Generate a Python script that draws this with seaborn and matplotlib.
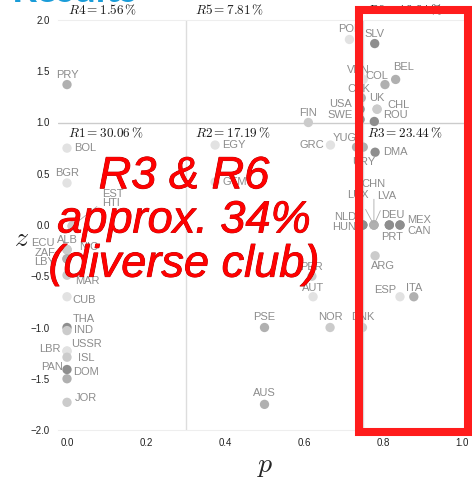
import matplotlib
matplotlib.use("Agg")
import matplotlib.pyplot as plt
import matplotlib.patheffects as pe
from matplotlib.patches import Rectangle
import seaborn as sns
import pandas as pd

# country codes, participation coefficient p, within-module degree z, grey shade level
names = ["PRY", "BOL", "BGR", "POL", "SLV", "VEN", "COL", "BEL", "CSK", "UK",
         "CHL", "ROU", "USA", "SWE", "FIN", "YUG", "URY", "GRC", "DMA", "CHN",
         "LUX", "LVA", "NLD", "HUN", "DEU", "PRT", "MEX", "CAN", "ARG", "ESP",
         "ITA", "PER", "AUT", "PSE", "NOR", "DNK", "AUS", "EGY", "GTM", "THA",
         "IND", "LBR", "USSR", "ISL", "PAN", "DOM", "JOR", "CUB", "EST", "HTI",
         "ALB", "NIC", "ECU", "ZAF", "LBY", "MAR"]
p = [0.0, 0.0, 0.0, 0.715, 0.779, 0.75, 0.805, 0.832, 0.745, 0.785,
     0.785, 0.778, 0.742, 0.742, 0.611, 0.733, 0.75, 0.667, 0.78, 0.777,
     0.777, 0.777, 0.749, 0.749, 0.816, 0.816, 0.843, 0.843, 0.78, 0.843,
     0.878, 0.62, 0.623, 0.5, 0.666, 0.748, 0.5, 0.375, 0.375, 0.0,
     0.0, 0.0, 0.0, 0.0, 0.0, 0.0, 0.0, 0.0, 0.013, 0.013,
     0.0, 0.0, 0.0, 0.0, 0.0, 0.0]
z = [1.37, 0.75, 0.41, 1.81, 1.77, 1.42, 1.37, 1.42, 1.24, 1.13,
     1.13, 1.01, 1.13, 1.03, 1.0, 0.76, 0.76, 0.78, 0.71, 0.0,
     0.0, 0.0, 0.0, 0.0, 0.0, 0.0, 0.0, 0.0, -0.30, -0.70,
     -0.70, -0.50, -0.70, -1.0, -1.0, -1.0, -1.75, 0.78, 0.42, -1.0,
     -1.03, -1.23, -1.23, -1.29, -1.41, -1.50, -1.73, -0.70, -0.01, -0.01,
     -0.24, -0.24, -0.24, -0.33, -0.33, -0.49]
shade = [2, 0, 0, 0, 3, 0, 2, 2, 2, 1,
         1, 3, 3, 3, 1, 2, 2, 0, 3, 2,
         2, 2, 3, 3, 3, 3, 3, 3, 1, 0,
         2, 1, 0, 2, 1, 1, 2, 0, 0, 3,
         1, 0, 0, 1, 3, 2, 1, 0, 1, 1,
         1, 1, 1, 2, 2, 1]

region_names = ["R1", "R2", "R3", "R4", "R5", "R6"]
region_share = [30.06, 17.19, 23.44, 1.56, 7.81, 10.94]

# label placement (pixels) -- dx, dy, ha
offsets = {
    "PRY": (0, 10, "center"), "BOL": (7, 0, "left"), "BGR": (0, 10, "center"),
    "POL": (0, 10, "center"), "SLV": (0, 10, "center"), "VEN": (-5, 9, "center"),
    "COL": (-8, 9, "center"), "BEL": (8, 12, "center"), "CSK": (-2, 9, "center"),
    "UK": (0, 11, "center"), "CHL": (10, 4, "left"), "ROU": (9, 6, "left"),
    "USA": (-8, 5, "right"), "SWE": (-7, 4, "right"), "FIN": (0, 10, "center"),
    "YUG": (-12, 9, "center"), "URY": (0, -15, "center"), "GRC": (-6, 0, "right"),
    "DMA": (8, 0, "left"), "CHN": (0, 41, "center"), "LUX": (-16, 30, "center"),
    "LVA": (13, 29, "center"), "NLD": (-7, 8, "right"), "HUN": (-7, -2, "right"),
    "DEU": (3, 10, "center"), "PRT": (3, -12, "center"), "MEX": (7, 5, "left"),
    "CAN": (7, -6, "left"), "ARG": (8, -10, "center"), "ESP": (-4, 7, "right"),
    "ITA": (0, 9, "center"), "PER": (0, 9, "center"), "AUT": (0, 9, "center"),
    "PSE": (0, 10, "center"), "NOR": (0, 10, "center"), "DNK": (0, 10, "center"),
    "AUS": (0, 11, "center"), "EGY": (7, 0, "left"), "GTM": (7, 0, "left"),
    "THA": (6, 9, "left"), "IND": (7, 1, "left"), "LBR": (-6, 2, "right"),
    "USSR": (4, 7, "left"), "ISL": (11, -1, "left"), "PAN": (-4, 3, "right"),
    "DOM": (6, 7, "left"), "JOR": (8, 4, "left"), "CUB": (5, -3, "left"),
    "EST": (30, 32, "left"), "HTI": (30, 23, "left"), "ALB": (0, 10, "center"),
    "NIC": (12, 3, "left"), "ECU": (-12, 7, "right"), "ZAF": (-12, 6, "right"),
    "LBY": (-12, -3, "right"), "MAR": (8, -6, "left"),
}
leaders = ["CHN", "LUX", "LVA", "EST"]

df = pd.DataFrame({"name": names, "p": p, "z": z, "shade": shade})
greys = {0: "#e2e2e2", 1: "#cbcbcb", 2: "#b0b0b0", 3: "#8e8e8e"}

sns.set_style("white")
plt.rcParams["mathtext.fontset"] = "cm"
fig = plt.figure(figsize=(4.72, 4.79), dpi=100)
ax = fig.add_axes([58 / 472, 1 - 430 / 479, (472 - 58) / 472, 410 / 479])

ax.axvline(0.3, color="#dddddd", lw=1, zorder=0)
ax.axvline(0.75, color="#dddddd", lw=1, zorder=0)
ax.axhline(1.0, color="#cccccc", lw=1, zorder=0)

sns.scatterplot(data=df, x="p", y="z", hue="shade", palette=greys, s=45,
                edgecolor="none", legend=False, ax=ax, zorder=3)

for n, px, pz in zip(names, p, z):
    dx, dy, ha = offsets[n]
    kw = {}
    if n in leaders:
        kw["arrowprops"] = dict(arrowstyle="-", color="#aaaaaa", lw=0.6,
                                shrinkA=5, shrinkB=2)
    ax.annotate(n, (px, pz), xytext=(dx, dy), textcoords="offset pixels",
                ha=ha, va="center", fontsize=8, color="#8c8c8c",
                family="Liberation Sans", **kw)

# region shares
rx = [0.003, 0.325, 0.76]
for i, (rn, sh) in enumerate(zip(region_names, region_share)):
    xx = rx[i % 3]
    label = r"$%s = %.2f\,\%%$" % (rn, sh)
    if i < 3:
        ax.text(xx, 0.97, label, fontsize=9.5, color="#1a1a1a", va="top", ha="left")
    else:
        ax.text(xx, 2.03, label, fontsize=9.5, color="#1a1a1a", va="bottom", ha="left")

ax.set_xlim(-0.0228, (472 - 67) / 395)
ax.set_ylim(-2.0, 2.0)
ax.set_xticks([0.0, 0.2, 0.4, 0.6, 0.8, 1.0])
ax.set_yticks([-2.0, -1.5, -1.0, -0.5, 0.0, 0.5, 1.0, 1.5, 2.0])
ax.set_xticklabels(["0.0", "0.2", "0.4", "0.6", "0.8", "1.0"])
ax.set_yticklabels(["\u22122.0", "\u22121.5", "\u22121.0", "\u22120.5", "0.0",
                    "0.5", "1.0", "1.5", "2.0"])
ax.tick_params(length=0, labelsize=7, colors="#222222", pad=6)
for lab in ax.get_xticklabels() + ax.get_yticklabels():
    lab.set_family("Liberation Sans")
ax.set_xlabel("")
ax.set_ylabel("")
for s in ["left", "right"]:
    ax.spines[s].set_visible(False)
for s in ["top", "bottom"]:
    ax.spines[s].set_color("#eeeeee")

fig.text(22 / 472, 1 - 238 / 479, r"$z$", fontsize=20, ha="center", va="center")
fig.text(265 / 472, 1 - 465 / 479, r"$p$", fontsize=20, ha="center", va="center")

# slide overlay
fig.text(12 / 472, 1 - 2.5 / 479, "Results", fontsize=28, weight="bold",
         color="#1a9cd8", family="Lato", va="baseline", ha="left")
fig.add_artist(Rectangle((359 / 472, 1 - 432 / 479), (468 - 359) / 472,
                         (432 - 10) / 479, transform=fig.transFigure,
                         fill=False, ec="#ff1c1c", lw=5.8, zorder=10))
fig.text(184 / 472, 1 - 221 / 479, "R3 & R6\napprox. 34%\n(diverse club)",
         fontsize=32.5, style="italic", family="Liberation Sans", color="#ff0000",
         ha="center", va="center", multialignment="center", linespacing=1.1,
         zorder=11,
         path_effects=[pe.withStroke(linewidth=0.6, foreground="#b00000")])

fig.savefig("out.png", dpi=100)
